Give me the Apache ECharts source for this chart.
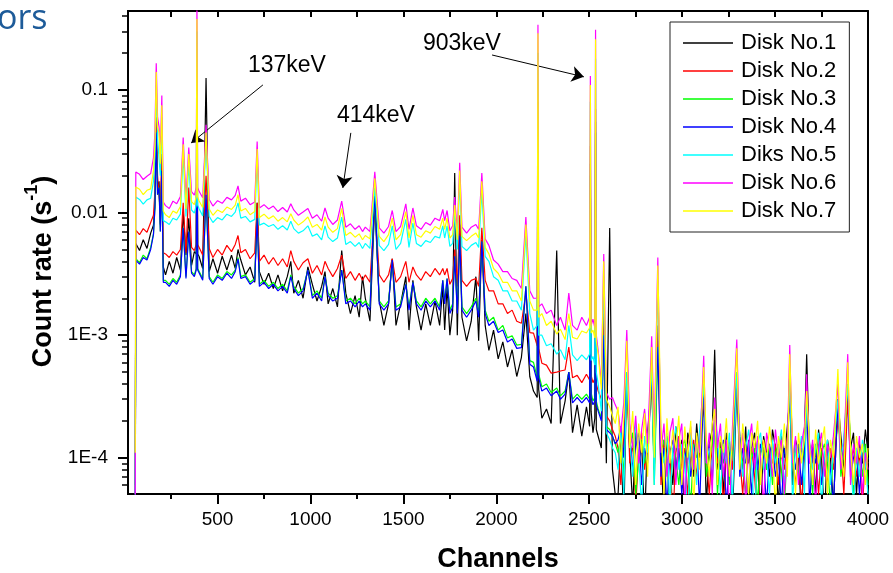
<!DOCTYPE html>
<html>
<head>
<meta charset="utf-8">
<script src="https://cdn.jsdelivr.net/npm/echarts@6/dist/echarts.min.js"></script>
<style>
  html, body { margin: 0; padding: 0; background: #fff; }
  #chart { width: 893px; height: 573px; }
</style>
</head>
<body>
<div id="chart"></div>
<script>
// Gamma spectra of seven disks: count rate per channel.
const channels = [
  57, 60, 80, 100, 120, 140, 155, 163, 170, 177,
  185, 192, 200, 208, 220, 240, 260, 280, 300, 315,
  330, 345, 360, 375, 385, 389, 393, 400, 420, 438,
  455, 475, 500, 525, 550, 575, 595, 610, 625, 650,
  675, 700, 713, 725, 750, 775, 800, 825, 850, 875,
  894, 910, 935, 960, 986, 1010, 1035, 1060, 1078, 1095,
  1120, 1145, 1168, 1190, 1215, 1240, 1262, 1280, 1295, 1320,
  1346, 1370, 1395, 1420, 1440, 1460, 1485, 1513, 1530, 1551,
  1570, 1595, 1620, 1645, 1670, 1695, 1712, 1722, 1735, 1750,
  1765, 1776, 1790, 1803, 1815, 1840, 1865, 1890, 1905, 1922,
  1940, 1960, 1985, 2010, 2035, 2060, 2085, 2110, 2135, 2159,
  2180, 2200, 2220, 2224, 2228, 2245, 2270, 2295, 2325, 2345,
  2370, 2390, 2410, 2435, 2460, 2485, 2502, 2506, 2510, 2520,
  2530, 2534, 2538, 2548, 2565, 2578, 2592, 2610, 2625, 2640,
  2655, 2670, 2686, 2702, 2718, 2734, 2750, 2766, 2782, 2798,
  2814, 2836, 2850, 2869, 2886, 2902, 2918, 2934, 2950, 2966,
  2982, 2998, 3014, 3030, 3046, 3062, 3078, 3094, 3116, 3130,
  3146, 3162, 3175, 3190, 3206, 3222, 3238, 3254, 3270, 3294,
  3310, 3326, 3342, 3358, 3374, 3390, 3406, 3422, 3438, 3454,
  3470, 3486, 3502, 3518, 3534, 3550, 3566, 3579, 3594, 3610,
  3626, 3642, 3658, 3670, 3686, 3702, 3718, 3734, 3750, 3766,
  3782, 3798, 3814, 3838, 3854, 3870, 3891, 3906, 3922, 3938,
  3954, 3970, 3986, 4000
];

const disk1 = [
  0.00003, 0.0056, 0.0049, 0.0060, 0.0051, 0.0068, 0.0079, 0.012, 0.05, 0.016,
  0.018, 0.008, 0.025, 0.0036, 0.0031, 0.0040, 0.0032, 0.0043, 0.0034, 0.010,
  0.0045, 0.009, 0.0037, 0.0048, 0.0046, 0.1, 0.0046, 0.0044, 0.0035, 0.125,
  0.0033, 0.0042, 0.0032, 0.0044, 0.0034, 0.0045, 0.0035, 0.005, 0.0041, 0.0031,
  0.0036, 0.0027, 0.012, 0.0033, 0.0026, 0.0032, 0.0024, 0.0031, 0.0023, 0.0030,
  0.0040, 0.0022, 0.0028, 0.0020, 0.0036, 0.0026, 0.0019, 0.0025, 0.0033, 0.0018,
  0.0024, 0.0017, 0.0049, 0.0022, 0.0015, 0.0021, 0.0014, 0.0030, 0.0020, 0.0013,
  0.012, 0.0019, 0.0012, 0.0018, 0.0042, 0.0012, 0.0018, 0.0030, 0.0011, 0.0028,
  0.0017, 0.0011, 0.0018, 0.0012, 0.0019, 0.0012, 0.0025, 0.0011, 0.0025, 0.0010,
  0.0016, 0.021, 0.0010, 0.008, 0.0014, 0.0009, 0.0013, 0.0030, 0.0009, 0.006,
  0.0012, 0.00075, 0.0011, 0.00064, 0.00088, 0.00055, 0.00076, 0.00046, 0.00066, 0.0015,
  0.00046, 0.00035, 0.00031, 0.06, 0.00036, 0.00021, 0.00025, 0.00019, 0.0049, 0.00019,
  0.00029, 0.0005, 0.00016, 0.00027, 0.00015, 0.00026, 0.00018, 0.025, 0.00024, 0.00016,
  0.00021, 0.055, 0.00017, 0.00017, 0.00012, 0.0012, 0.00009, 0.0075, 0.00008, 0.00005,
  0.00005, 0.00014, 0.00003, 0.0005, 0.00011, 0.00004, 0.00017, 0.00009, 0.00013, 0.00003,
  0.00016, 0.0004, 0.00008, 0.0009, 0.00012, 0.00003, 0.00015, 0.00011, 0.00006, 0.00018,
  0.00009, 0.00014, 0.00003, 0.00016, 0.00012, 0.00007, 0.00019, 0.00010, 0.0003, 0.00004,
  0.00013, 0.00017, 0.00076, 0.00008, 0.00014, 0.00005, 0.00016, 0.00011, 0.00003, 0.0004,
  0.00015, 0.00008, 0.00018, 0.00004, 0.00012, 0.00016, 0.00009, 0.00003, 0.00015, 0.00011,
  0.00007, 0.00017, 0.00012, 0.00004, 0.00015, 0.00010, 0.00018, 0.0003, 0.00006, 0.00014,
  0.00011, 0.00003, 0.00016, 0.0007, 0.00009, 0.00013, 0.00005, 0.00017, 0.00010, 0.00003,
  0.00014, 0.00010, 0.00004, 0.0003, 0.00015, 0.00008, 0.0004, 0.00012, 0.00016, 0.00005,
  0.00013, 0.00009, 0.00017, 0.00011
];

const disk2 = [
  0.00003, 0.0072, 0.0066, 0.0074, 0.0069, 0.0083, 0.0095, 0.015, 0.06, 0.02,
  0.02, 0.01, 0.03, 0.0047, 0.0046, 0.0043, 0.0048, 0.0045, 0.0050, 0.012,
  0.0047, 0.016, 0.0052, 0.0049, 0.0055, 0.12, 0.0055, 0.0054, 0.0045, 0.02,
  0.0051, 0.0043, 0.0050, 0.0045, 0.0054, 0.0048, 0.0055, 0.0065, 0.0047, 0.0050,
  0.0042, 0.0047, 0.012, 0.0040, 0.0045, 0.0038, 0.0043, 0.0037, 0.0042, 0.0036,
  0.0049, 0.0040, 0.0034, 0.0039, 0.0042, 0.0032, 0.0037, 0.0031, 0.0040, 0.0035,
  0.0030, 0.0035, 0.0045, 0.0029, 0.0033, 0.0028, 0.0032, 0.0028, 0.0031, 0.0027,
  0.012, 0.0031, 0.0027, 0.0031, 0.0042, 0.0027, 0.0030, 0.0040, 0.0027, 0.0036,
  0.0031, 0.0028, 0.0033, 0.0030, 0.0035, 0.0031, 0.0035, 0.0031, 0.0035, 0.0026,
  0.0029, 0.005, 0.0025, 0.0095, 0.0028, 0.0025, 0.0028, 0.0029, 0.0025, 0.0075,
  0.0028, 0.0023, 0.0023, 0.0018, 0.0018, 0.0015, 0.0016, 0.0013, 0.00125, 0.0022,
  0.00105, 0.00104, 0.00082, 0.08, 0.00078, 0.00059, 0.00057, 0.00049, 0.00050, 0.00051,
  0.00052, 0.0008, 0.00045, 0.00047, 0.00041, 0.00048, 0.00043, 0.035, 0.00047, 0.00041,
  0.00044, 0.07, 0.0004, 0.00035, 0.0003, 0.0015, 0.00022, 0.0002, 0.00017, 0.00015,
  0.00012, 0.00006, 0.00015, 0.0005, 0.00009, 0.00013, 0.00004, 0.00011, 0.00016, 0.00008,
  0.00013, 0.0004, 0.00010, 0.0012, 0.00006, 0.00014, 0.00009, 0.00012, 0.00003, 0.00011,
  0.00015, 0.00008, 0.00012, 0.00005, 0.00010, 0.00014, 0.00007, 0.00012, 0.0003, 0.00010,
  0.00005, 0.00013, 0.0002, 0.00009, 0.00012, 0.00004, 0.00011, 0.00014, 0.00008, 0.0004,
  0.00010, 0.00005, 0.00013, 0.00009, 0.00012, 0.00007, 0.00003, 0.00011, 0.00014, 0.00008,
  0.00012, 0.00009, 0.00013, 0.00006, 0.00011, 0.00008, 0.00014, 0.0004, 0.00010, 0.00006,
  0.00012, 0.00004, 0.00010, 0.0002, 0.00013, 0.00009, 0.00011, 0.00005, 0.00012, 0.00009,
  0.00006, 0.00012, 0.00008, 0.0002, 0.00013, 0.00005, 0.0003, 0.00009, 0.00012, 0.00007,
  0.00011, 0.00004, 0.00010, 0.00009
];

const disk3 = [
  0.00006, 0.0042, 0.0039, 0.0045, 0.0042, 0.0052, 0.0067, 0.011, 0.045, 0.014,
  0.016, 0.007, 0.022, 0.0028, 0.0028, 0.0026, 0.0029, 0.0027, 0.0031, 0.0075,
  0.0030, 0.007, 0.0033, 0.0031, 0.0035, 0.08, 0.0035, 0.0034, 0.0029, 0.013,
  0.0030, 0.0027, 0.0031, 0.0029, 0.0033, 0.0031, 0.0034, 0.0043, 0.0030, 0.0031,
  0.0027, 0.0029, 0.009, 0.0026, 0.0028, 0.0025, 0.0027, 0.0024, 0.0026, 0.0023,
  0.0031, 0.0025, 0.0022, 0.0024, 0.0034, 0.0021, 0.0023, 0.0020, 0.0030, 0.0022,
  0.0020, 0.0021, 0.0034, 0.0019, 0.0020, 0.0018, 0.0020, 0.0018, 0.0019, 0.0017,
  0.014, 0.0019, 0.0017, 0.0019, 0.0040, 0.0017, 0.0018, 0.0026, 0.0017, 0.0027,
  0.0019, 0.0017, 0.0020, 0.0018, 0.0020, 0.0017, 0.0028, 0.0019, 0.0029, 0.0016,
  0.0018, 0.0044, 0.0016, 0.0065, 0.0017, 0.0015, 0.0017, 0.0020, 0.0015, 0.0058,
  0.0016, 0.0013, 0.0014, 0.0011, 0.0012, 0.00095, 0.00099, 0.00083, 0.00084, 0.0025,
  0.00062, 0.00060, 0.00045, 0.05, 0.00048, 0.00038, 0.00040, 0.00034, 0.00037, 0.00032,
  0.00035, 0.0005, 0.00030, 0.00033, 0.00030, 0.00033, 0.00030, 0.02, 0.00034, 0.00029,
  0.00031, 0.045, 0.00029, 0.00025, 0.00021, 0.001, 0.00018, 0.00017, 0.00015, 0.00013,
  0.00011, 0.00015, 0.00007, 0.0005, 0.00012, 0.00016, 0.00005, 0.00010, 0.00014, 0.00009,
  0.00013, 0.0005, 0.00006, 0.0008, 0.00011, 0.00014, 0.00009, 0.00004, 0.00012, 0.00010,
  0.00006, 0.00012, 0.00014, 0.00009, 0.00004, 0.00013, 0.00010, 0.00012, 0.0004, 0.00007,
  0.00010, 0.00013, 0.0002, 0.00005, 0.00012, 0.00009, 0.00013, 0.00006, 0.00011, 0.0005,
  0.00012, 0.00009, 0.00005, 0.00013, 0.00010, 0.00012, 0.00004, 0.00011, 0.00013, 0.00008,
  0.00013, 0.00006, 0.00011, 0.00013, 0.00008, 0.00004, 0.00012, 0.0005, 0.00009, 0.00012,
  0.00007, 0.00012, 0.00010, 0.0003, 0.00011, 0.00005, 0.00013, 0.00008, 0.00011, 0.00013,
  0.00009, 0.00004, 0.00012, 0.0003, 0.00007, 0.00011, 0.0004, 0.00013, 0.00005, 0.00010,
  0.00012, 0.00007, 0.00013, 0.00006
];

const disk4 = [
  0.00003, 0.0041, 0.0038, 0.0043, 0.0041, 0.0050, 0.0066, 0.011, 0.045, 0.014,
  0.016, 0.007, 0.022, 0.0027, 0.0027, 0.0025, 0.0028, 0.0026, 0.0030, 0.0075,
  0.0029, 0.007, 0.0032, 0.0030, 0.0034, 0.08, 0.0034, 0.0033, 0.0028, 0.014,
  0.0029, 0.0026, 0.0030, 0.0028, 0.0032, 0.0029, 0.0033, 0.0042, 0.0029, 0.0030,
  0.0026, 0.0028, 0.009, 0.0025, 0.0027, 0.0024, 0.0026, 0.0023, 0.0025, 0.0022,
  0.0030, 0.0024, 0.0021, 0.0023, 0.0034, 0.0020, 0.0022, 0.0019, 0.0030, 0.0021,
  0.0019, 0.0020, 0.0034, 0.0018, 0.0019, 0.0017, 0.0019, 0.0017, 0.0018, 0.0016,
  0.015, 0.0018, 0.0016, 0.0018, 0.0041, 0.0016, 0.0017, 0.0026, 0.0016, 0.0027,
  0.0018, 0.0016, 0.0019, 0.0017, 0.0019, 0.0016, 0.0028, 0.0018, 0.0029, 0.0015,
  0.0017, 0.0044, 0.0015, 0.0065, 0.0016, 0.0014, 0.0016, 0.0019, 0.0014, 0.0058,
  0.0015, 0.0012, 0.0013, 0.00105, 0.0011, 0.00088, 0.00093, 0.00078, 0.00079, 0.0025,
  0.00058, 0.00055, 0.00042, 0.05, 0.00045, 0.00035, 0.00037, 0.00032, 0.00035, 0.00030,
  0.00033, 0.0005, 0.00028, 0.00031, 0.00028, 0.00031, 0.00028, 0.02, 0.00031, 0.00027,
  0.00029, 0.045, 0.00027, 0.00024, 0.0002, 0.001, 0.00017, 0.00016, 0.00015, 0.00013,
  0.00014, 0.00018, 0.00010, 0.0005, 0.00015, 0.00008, 0.00013, 0.00016, 0.00006, 0.00012,
  0.00009, 0.0005, 0.00013, 0.0008, 0.00007, 0.00012, 0.00004, 0.00011, 0.00014, 0.00008,
  0.00012, 0.00005, 0.00010, 0.00013, 0.00007, 0.00011, 0.00014, 0.00004, 0.0004, 0.00010,
  0.00013, 0.00006, 0.0002, 0.00011, 0.00008, 0.00014, 0.00004, 0.00010, 0.00012, 0.0005,
  0.00007, 0.00012, 0.00009, 0.00014, 0.00005, 0.00011, 0.00008, 0.00013, 0.00010, 0.00004,
  0.00011, 0.00013, 0.00007, 0.00010, 0.00004, 0.00012, 0.00009, 0.0005, 0.00012, 0.00008,
  0.00013, 0.00006, 0.00011, 0.0003, 0.00004, 0.00012, 0.00009, 0.00013, 0.00006, 0.00010,
  0.00012, 0.00008, 0.00004, 0.0003, 0.00011, 0.00013, 0.0004, 0.00007, 0.00010, 0.00012,
  0.00005, 0.00011, 0.00008, 0.00010
];

const disk5 = [
  0.00003, 0.0134, 0.0128, 0.0117, 0.0127, 0.0131, 0.018, 0.03, 0.11, 0.04,
  0.04, 0.02, 0.06, 0.0086, 0.0084, 0.0080, 0.0090, 0.0087, 0.0097, 0.030,
  0.0093, 0.025, 0.0105, 0.0099, 0.0115, 0.3, 0.0115, 0.0108, 0.0094, 0.040,
  0.0093, 0.0083, 0.0091, 0.0087, 0.0097, 0.0093, 0.0101, 0.012, 0.0090, 0.0093,
  0.0084, 0.0088, 0.028, 0.0079, 0.0082, 0.0077, 0.0080, 0.0073, 0.0078, 0.0072,
  0.0085, 0.0074, 0.0068, 0.0071, 0.0078, 0.0064, 0.0067, 0.0060, 0.0078, 0.0063,
  0.0058, 0.0062, 0.0092, 0.0055, 0.0058, 0.0053, 0.0057, 0.0051, 0.0056, 0.0051,
  0.016, 0.0054, 0.0049, 0.0055, 0.0078, 0.0050, 0.0056, 0.0088, 0.0052, 0.0082,
  0.0056, 0.0053, 0.0059, 0.0057, 0.0064, 0.0062, 0.0078, 0.0062, 0.0078, 0.0053,
  0.0056, 0.010, 0.0050, 0.019, 0.0053, 0.0049, 0.0054, 0.0057, 0.0052, 0.015,
  0.0044, 0.0040, 0.0030, 0.0028, 0.0023, 0.0023, 0.0019, 0.0019, 0.0016, 0.0068,
  0.0015, 0.0011, 0.0012, 0.2, 0.0010, 0.0010, 0.00082, 0.00085, 0.00070, 0.00076,
  0.00063, 0.0012, 0.00069, 0.00062, 0.00069, 0.00063, 0.00070, 0.08, 0.00062, 0.00067,
  0.00057, 0.18, 0.0005, 0.0004, 0.00024, 0.003, 0.00016, 0.00014, 0.00012, 0.00011,
  0.00008, 0.00017, 0.00005, 0.0005, 0.00014, 0.00007, 0.00019, 0.00010, 0.00004, 0.00015,
  0.00011, 0.0006, 0.00006, 0.0028, 0.00013, 0.00009, 0.00016, 0.00004, 0.00012, 0.00018,
  0.00008, 0.00013, 0.00010, 0.00003, 0.00016, 0.00011, 0.00006, 0.00017, 0.0004, 0.00009,
  0.00012, 0.00008, 0.0002, 0.00015, 0.00005, 0.00013, 0.00009, 0.00016, 0.00004, 0.0005,
  0.00014, 0.00007, 0.00012, 0.00017, 0.00009, 0.00003, 0.00013, 0.00016, 0.00008, 0.00011,
  0.00005, 0.00014, 0.00009, 0.00012, 0.00017, 0.00006, 0.00011, 0.0005, 0.00004, 0.00013,
  0.00010, 0.00015, 0.00005, 0.0003, 0.00013, 0.00008, 0.00012, 0.00016, 0.00004, 0.00011,
  0.00014, 0.00006, 0.00012, 0.0003, 0.00009, 0.00015, 0.0004, 0.00010, 0.00004, 0.00012,
  0.00007, 0.00014, 0.00009, 0.00005
];

const disk6 = [
  0.00003, 0.0214, 0.0205, 0.0186, 0.0198, 0.0208, 0.0280, 0.045, 0.165, 0.06,
  0.05, 0.03, 0.09, 0.0122, 0.0114, 0.0108, 0.0124, 0.0118, 0.0135, 0.041,
  0.0128, 0.034, 0.0148, 0.0139, 0.016, 0.5, 0.016, 0.0150, 0.0132, 0.052,
  0.0128, 0.0113, 0.0125, 0.0119, 0.0133, 0.0127, 0.0138, 0.0165, 0.0124, 0.0131,
  0.0116, 0.0122, 0.038, 0.0109, 0.0116, 0.0107, 0.0113, 0.0102, 0.0110, 0.0101,
  0.0118, 0.0105, 0.0095, 0.0101, 0.0108, 0.0090, 0.0096, 0.0085, 0.0109, 0.0090,
  0.0080, 0.0087, 0.0124, 0.0076, 0.0081, 0.0073, 0.0078, 0.0070, 0.0076, 0.0070,
  0.0215, 0.0075, 0.0068, 0.0077, 0.0104, 0.0070, 0.0077, 0.0118, 0.0073, 0.0109,
  0.0078, 0.0073, 0.0083, 0.0079, 0.0090, 0.0086, 0.0106, 0.0086, 0.0104, 0.0071,
  0.0078, 0.0134, 0.0069, 0.0255, 0.0076, 0.0068, 0.0076, 0.0080, 0.0073, 0.021,
  0.0061, 0.0054, 0.0041, 0.0038, 0.0033, 0.0033, 0.0029, 0.0028, 0.0024, 0.0092,
  0.0023, 0.0020, 0.0020, 0.34, 0.0017, 0.0018, 0.0015, 0.0016, 0.0012, 0.0014,
  0.0011, 0.0022, 0.0012, 0.0011, 0.0014, 0.0012, 0.0014, 0.13, 0.0012, 0.00135,
  0.00115, 0.31, 0.0010, 0.00075, 0.0004, 0.0046, 0.00034, 0.0003, 0.00031, 0.00027,
  0.00024, 0.00016, 0.00028, 0.0011, 0.00019, 0.00012, 0.00022, 0.00009, 0.00017, 0.00025,
  0.00013, 0.00098, 0.00015, 0.0043, 0.00011, 0.00019, 0.00007, 0.00016, 0.00021, 0.00006,
  0.00014, 0.00019, 0.00004, 0.00012, 0.00018, 0.00008, 0.00015, 0.00011, 0.00068, 0.00009,
  0.00016, 0.00005, 0.00031, 0.00012, 0.00019, 0.00007, 0.00014, 0.00003, 0.00017, 0.00092,
  0.00011, 0.00016, 0.00004, 0.00013, 0.00019, 0.00008, 0.00015, 0.00010, 0.00004, 0.00016,
  0.00012, 0.00007, 0.00017, 0.00010, 0.00014, 0.00005, 0.00012, 0.00083, 0.00009, 0.00015,
  0.00006, 0.00013, 0.00018, 0.00048, 0.00009, 0.00014, 0.00004, 0.00012, 0.00016, 0.00007,
  0.00013, 0.00010, 0.00015, 0.00040, 0.00008, 0.00012, 0.00070, 0.00006, 0.00013, 0.00009,
  0.00015, 0.00005, 0.00011, 0.00008
];

const disk7 = [
  0.00011, 0.0162, 0.0155, 0.0140, 0.0152, 0.0156, 0.022, 0.036, 0.14, 0.05,
  0.045, 0.025, 0.075, 0.0103, 0.0096, 0.0091, 0.0103, 0.0099, 0.0112, 0.036,
  0.0107, 0.030, 0.0123, 0.0116, 0.0135, 0.38, 0.0135, 0.0125, 0.0110, 0.045,
  0.0107, 0.0095, 0.0105, 0.0100, 0.0111, 0.0106, 0.0115, 0.014, 0.0103, 0.0108,
  0.0096, 0.0102, 0.033, 0.0091, 0.0097, 0.0089, 0.0094, 0.0085, 0.0091, 0.0084,
  0.0098, 0.0087, 0.0079, 0.0084, 0.0092, 0.0076, 0.0080, 0.0072, 0.0092, 0.0076,
  0.0069, 0.0074, 0.0108, 0.0065, 0.0069, 0.0063, 0.0067, 0.0060, 0.0065, 0.0061,
  0.019, 0.0064, 0.0058, 0.0066, 0.0090, 0.0060, 0.0066, 0.0102, 0.0062, 0.0095,
  0.0066, 0.0063, 0.0071, 0.0068, 0.0077, 0.0073, 0.0090, 0.0073, 0.0090, 0.0062,
  0.0066, 0.0115, 0.0060, 0.022, 0.0064, 0.0059, 0.0064, 0.0068, 0.0062, 0.018,
  0.0052, 0.0046, 0.0035, 0.0032, 0.0027, 0.0027, 0.0023, 0.0023, 0.0019, 0.0080,
  0.0019, 0.0016, 0.0016, 0.29, 0.0014, 0.0015, 0.0012, 0.0013, 0.00102, 0.00112,
  0.00092, 0.0015, 0.00096, 0.00093, 0.00108, 0.00104, 0.00115, 0.11, 0.00104, 0.0011,
  0.00095, 0.26, 0.0009, 0.0007, 0.00036, 0.004, 0.0003, 0.00026, 0.00022, 0.00019,
  0.00026, 0.00009, 0.00021, 0.0009, 0.00012, 0.00024, 0.00006, 0.00019, 0.00011, 0.00023,
  0.00007, 0.0008, 0.00010, 0.0037, 0.00018, 0.00005, 0.00021, 0.00009, 0.00017, 0.00012,
  0.00022, 0.00006, 0.00018, 0.00010, 0.00020, 0.00004, 0.00016, 0.00008, 0.00055, 0.00014,
  0.00007, 0.00019, 0.00025, 0.00006, 0.00015, 0.00011, 0.00021, 0.00007, 0.00013, 0.00078,
  0.00008, 0.00019, 0.00011, 0.00005, 0.00016, 0.00012, 0.00020, 0.00006, 0.00014, 0.00009,
  0.00018, 0.00011, 0.00004, 0.00015, 0.00010, 0.00019, 0.00007, 0.0007, 0.00013, 0.00005,
  0.00016, 0.00009, 0.00014, 0.00035, 0.00012, 0.00006, 0.00017, 0.00009, 0.00013, 0.00018,
  0.00005, 0.00014, 0.00010, 0.00053, 0.00011, 0.00007, 0.0006, 0.00012, 0.00006, 0.00015,
  0.00010, 0.00013, 0.00006, 0.00012
];

const seriesNames = ['Disk No.1', 'Disk No.2', 'Disk No.3', 'Disk No.4', 'Diks No.5', 'Disk No.6', 'Disk No.7'];
const seriesColors = ['#000000', '#ff0000', '#00ff00', '#0000ff', '#00ffff', '#ff00ff', '#ffff00'];
const seriesValues = [disk1, disk2, disk3, disk4, disk5, disk6, disk7];
// Which of the three overlaid axis pairs each spectrum is attached to
const seriesAxisPair = [0, 1, 2, 0, 0, 0, 0];

// Axis ranges and ticks
const xMin = 18, xMax = 4000;
const yMin = 5.06e-5, yMax = 0.441;
const xLabelTicks = [500, 1000, 1500, 2000, 2500, 3000, 3500, 4000];
const xMinorTicks = [250, 750, 1250, 1750, 2250, 2750, 3250, 3750];
const xTopTicks = [250, 500, 750, 1000, 1250, 1500, 1750, 2000, 2250, 2500, 2750, 3000, 3250, 3500, 3750];
const yMajorTicks = [1e-4, 1e-3, 1e-2, 1e-1];
const yTickLabels = ['1E-4', '1E-3', '0.01', '0.1'];
const yMinorTicks = [
  6e-5, 7e-5, 8e-5, 9e-5,
  2e-4, 3e-4, 4e-4, 5e-4, 6e-4, 7e-4, 8e-4, 9e-4,
  2e-3, 3e-3, 4e-3, 5e-3, 6e-3, 7e-3, 8e-3, 9e-3,
  0.02, 0.03, 0.04, 0.05, 0.06, 0.07, 0.08, 0.09,
  0.2, 0.3, 0.4
];

// Peak annotations
const noteTexts = ['137keV', '414keV', '903keV'];
const noteAt = [[873, 0.157], [1352, 0.0614], [1815, 0.241]];
const arrowFrom = [[744, 0.110], [1217, 0.0447], [1977, 0.193]];
const arrowTo = [[358, 0.037], [1174, 0.0159], [2471, 0.128]];

seriesValues.forEach((v, i) => {
  if (v.length !== channels.length) throw new Error(seriesNames[i] + ' length ' + v.length + ' vs ' + channels.length);
});

const FONT = '"Liberation Sans", Arial, sans-serif';
const chart = echarts.init(document.getElementById('chart'), null, { renderer: 'canvas' });

function yLabel(v) {
  let best = 0;
  yMajorTicks.forEach((t, i) => {
    if (Math.abs(Math.log10(v) - Math.log10(t)) < Math.abs(Math.log10(v) - Math.log10(yMajorTicks[best]))) best = i;
  });
  return yTickLabels[best];
}

const blackLine = { show: true, onZero: false, lineStyle: { color: '#000', width: 2 } };

const series = seriesNames.map((name, i) => ({
  name: name,
  type: 'line',
  xAxisIndex: seriesAxisPair[i],
  yAxisIndex: seriesAxisPair[i],
  data: channels.map((c, k) => [c, seriesValues[i][k]]),
  showSymbol: false,
  symbol: 'none',
  sampling: null,
  clip: true,
  color: seriesColors[i],
  lineStyle: { color: seriesColors[i], width: 1.2 },
  emphasis: { disabled: true },
  z: 2 + i
}));

series[series.length - 1].markLine = {
  silent: true,
  animation: false,
  symbol: ['none', 'arrow'],
  symbolSize: 12,
  lineStyle: { color: '#000', width: 1, type: 'solid' },
  label: { show: false },
  emphasis: { disabled: true },
  data: arrowFrom.map((f, i) => [{ coord: f }, { coord: arrowTo[i] }])
};

const option = {
  animation: false,
  backgroundColor: '#fff',
  textStyle: { fontFamily: FONT, color: '#000' },
  grid: { left: 128, top: 11, width: 740, height: 483, containLabel: false, outerBoundsMode: 'none' },
  legend: {
    orient: 'vertical',
    left: 670,
    top: 22,
    data: seriesNames,
    icon: 'rect',
    itemWidth: 50,
    itemHeight: 1.5,
    itemGap: 6,
    padding: [10, 13, 10, 13],
    borderColor: '#222',
    borderWidth: 1,
    backgroundColor: '#fff',
    selectedMode: false,
    textStyle: { fontSize: 22, color: '#000', fontFamily: FONT, padding: [0, 0, 0, 3] },
    z: 20
  },
  xAxis: [
    {
      type: 'value', position: 'bottom', min: xMin, max: xMax,
      axisLine: blackLine,
      axisTick: { show: true, inside: false, length: 10, customValues: xLabelTicks, lineStyle: { color: '#000', width: 2 } },
      axisLabel: { show: true, customValues: xLabelTicks, formatter: v => String(v), fontSize: 19, color: '#000', fontFamily: FONT, margin: 16 },
      splitLine: { show: false },
      name: 'Channels', nameLocation: 'middle', nameGap: 52,
      nameTextStyle: { fontSize: 27, fontWeight: 'bold', color: '#000', fontFamily: FONT }
    },
    {
      type: 'value', position: 'bottom', min: xMin, max: xMax,
      axisLine: blackLine,
      axisTick: { show: true, inside: false, length: 5, customValues: xMinorTicks, lineStyle: { color: '#000', width: 2 } },
      axisLabel: { show: false },
      splitLine: { show: false }
    },
    {
      type: 'value', position: 'top', min: xMin, max: xMax,
      axisLine: blackLine,
      axisTick: { show: true, inside: true, length: 6, customValues: xTopTicks, lineStyle: { color: '#000', width: 2 } },
      axisLabel: { show: false },
      splitLine: { show: false }
    }
  ],
  yAxis: [
    {
      type: 'log', logBase: 10, position: 'left', min: yMin, max: yMax,
      axisLine: blackLine,
      axisTick: { show: true, inside: false, length: 10, customValues: yMajorTicks, lineStyle: { color: '#000', width: 2 } },
      axisLabel: { show: true, customValues: yMajorTicks, formatter: yLabel, fontSize: 19, color: '#000', fontFamily: FONT, margin: 20 },
      splitLine: { show: false },
      name: '{m|Count rate (s}{sup|-1}{m|)}',
      nameLocation: 'middle', nameGap: 70, nameRotate: 90,
      nameTextStyle: {
        padding: [0, 38, 0, 0],
        rich: {
          m: { fontSize: 27, fontWeight: 'bold', color: '#000', fontFamily: FONT, verticalAlign: 'bottom' },
          sup: { fontSize: 18, fontWeight: 'bold', color: '#000', fontFamily: FONT, verticalAlign: 'bottom', padding: [0, 0, 16, 0] }
        }
      }
    },
    {
      type: 'log', logBase: 10, position: 'left', min: yMin, max: yMax,
      axisLine: blackLine,
      axisTick: { show: true, inside: false, length: 6, customValues: yMinorTicks, lineStyle: { color: '#000', width: 1.5 } },
      axisLabel: { show: false },
      splitLine: { show: false }
    },
    {
      type: 'log', logBase: 10, position: 'right', min: yMin, max: yMax,
      axisLine: blackLine,
      axisTick: { show: false },
      axisLabel: { show: false },
      splitLine: { show: false }
    }
  ],
  series: series
};

chart.setOption(option);

// Peak labels placed through the chart's own coordinate system
const notePixels = noteAt.map(p => chart.convertToPixel({ xAxisIndex: 0, yAxisIndex: 0 }, p));
chart.setOption({
  graphic: [
    {
      type: 'text', left: -3, top: 2, z: 30,
      style: { text: 'ors', fontSize: 34, fontFamily: '"Open Sans", "DejaVu Sans", sans-serif', fill: '#1d5b99' }
    }
  ].concat(noteTexts.map((t, i) => ({
    type: 'text', x: notePixels[i][0], y: notePixels[i][1], z: 30,
    style: { text: t, fontSize: 23, fontFamily: FONT, fill: '#000', align: 'center', verticalAlign: 'middle' }
  })))
});
</script>
</body>
</html>
